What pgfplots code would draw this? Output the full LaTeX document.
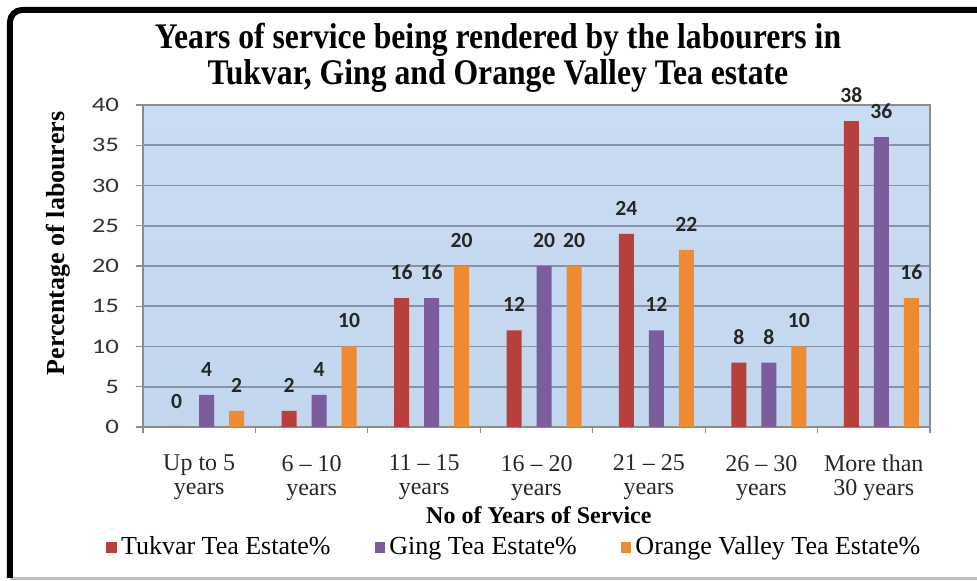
\documentclass[border=0pt]{standalone}
\usepackage{fontspec}
\setmainfont{Liberation Serif}
\newfontfamily\titlefont[FakeStretch=0.88]{Liberation Serif}
\newfontfamily\calib[FakeStretch=1.3]{Carlito}
\newfontfamily\calibb{Carlito}
\usepackage{pgfplots}
\pgfplotsset{compat=1.18}
\definecolor{cred}{HTML}{B8403C}
\definecolor{cpurple}{HTML}{7D5C9E}
\definecolor{corange}{HTML}{EE8A32}
\definecolor{bgtop}{HTML}{CADCF2}
\definecolor{bgbot}{HTML}{C2D6EE}
\definecolor{gridc}{HTML}{8593A8}
\definecolor{axisc}{HTML}{8C8C8C}
\pgfplotsset{sqleg/.style={legend image code/.code={\fill[##1] (0pt,-2.8pt) rectangle (5.4pt,2.8pt);}}}
\begin{document}
\begin{tikzpicture}
\useasboundingbox (-71.5pt,-77pt) rectangle (417pt,213.5pt);
\begin{axis}[
  at={(0,0)}, anchor=south west,
  width=393.5pt, height=161pt, scale only axis,
  ybar, bar width=7.5pt,
  xmin=-0.5, xmax=6.5, ymin=0, ymax=40,
  ytick={0,5,...,40},
  xtick={0,...,6},
  xticklabels={{Up to 5\\years},{6 – 10\\years},{11 – 15\\years},{16 – 20\\years},{21 – 25\\years},{26 – 30\\years},{More than\\30 years}},
  minor xtick={-0.5,0.5,...,6.5},
  major x tick style={draw=none},
  tick align=outside,
  xtick pos=bottom, ytick pos=left,
  major tick length=3.5pt, minor tick length=3pt,
  ymajorgrids, grid style={color=gridc, line width=0.8pt},
  axis line style={color=axisc, line width=0.8pt},
  tick style={color=axisc, line width=0.6pt},
  axis background/.style={top color=bgtop, bottom color=bgbot},
  clip=false,
  /pgf/number format/assume math mode=true,
  yticklabel style={font=\calib\fontsize{10.3}{12}\selectfont, text=black!80, xshift=-5pt},
  xticklabel style={align=center, font=\fontsize{12}{12}\selectfont, text=black!85, yshift=-7pt},
  xlabel={\textbf{No of Years of Service}},
  xlabel style={at={(axis description cs:0.503,0)}, anchor=center, yshift=-44pt, font=\fontsize{12}{14}\selectfont},
  ylabel={\textbf{Percentage of labourers}},
  ylabel style={at={(axis description cs:-0.108,0.57)}, anchor=center, font=\fontsize{13}{15}\selectfont},
  title={Years of service being rendered by the labourers in\\Tukvar, Ging and Orange Valley Tea estate},
  title style={at={(axis description cs:0.451,1.108)}, anchor=center, align=center, font=\titlefont\bfseries\fontsize{18}{18}\selectfont},
  legend style={at={(axis description cs:0.473,-0.373)}, anchor=center, draw=none, fill=none, legend columns=3,
    font=\fontsize{13}{15}\selectfont, /tikz/every even column/.append style={column sep=20pt}},
  nodes near coords,
  nodes near coords style={font=\calibb\bfseries\fontsize{10.8}{12}\selectfont, text=black!85, anchor=south, inner sep=0pt, yshift=9pt},
]
\addplot[fill=cred, draw=none, bar shift=-11.25pt, sqleg] coordinates {(0,0) (1,2) (2,16) (3,12) (4,24) (5,8) (6,38)};
\addplot[fill=cpurple, draw=none, bar shift=3.75pt, sqleg] coordinates {(0,4) (1,4) (2,16) (3,20) (4,12) (5,8) (6,36)};
\addplot[fill=corange, draw=none, bar shift=18.75pt, sqleg] coordinates {(0,2) (1,10) (2,20) (3,20) (4,22) (5,10) (6,16)};
\legend{Tukvar Tea Estate\%, Ging Tea Estate\%, Orange Valley Tea Estate\%}
\end{axis}
\begin{scope}
\clip (-71.5pt,-77pt) rectangle (417pt,213.5pt);
\draw[black!25, line width=1.5pt] (-66.5pt,-76pt) -- (430pt,-76pt);
\draw[black, line width=3pt, rounded corners=6pt] (430pt,208.5pt) -- (-66.5pt,208.5pt) -- (-66.5pt,-75.5pt);
\end{scope}
\end{tikzpicture}
\end{document}
